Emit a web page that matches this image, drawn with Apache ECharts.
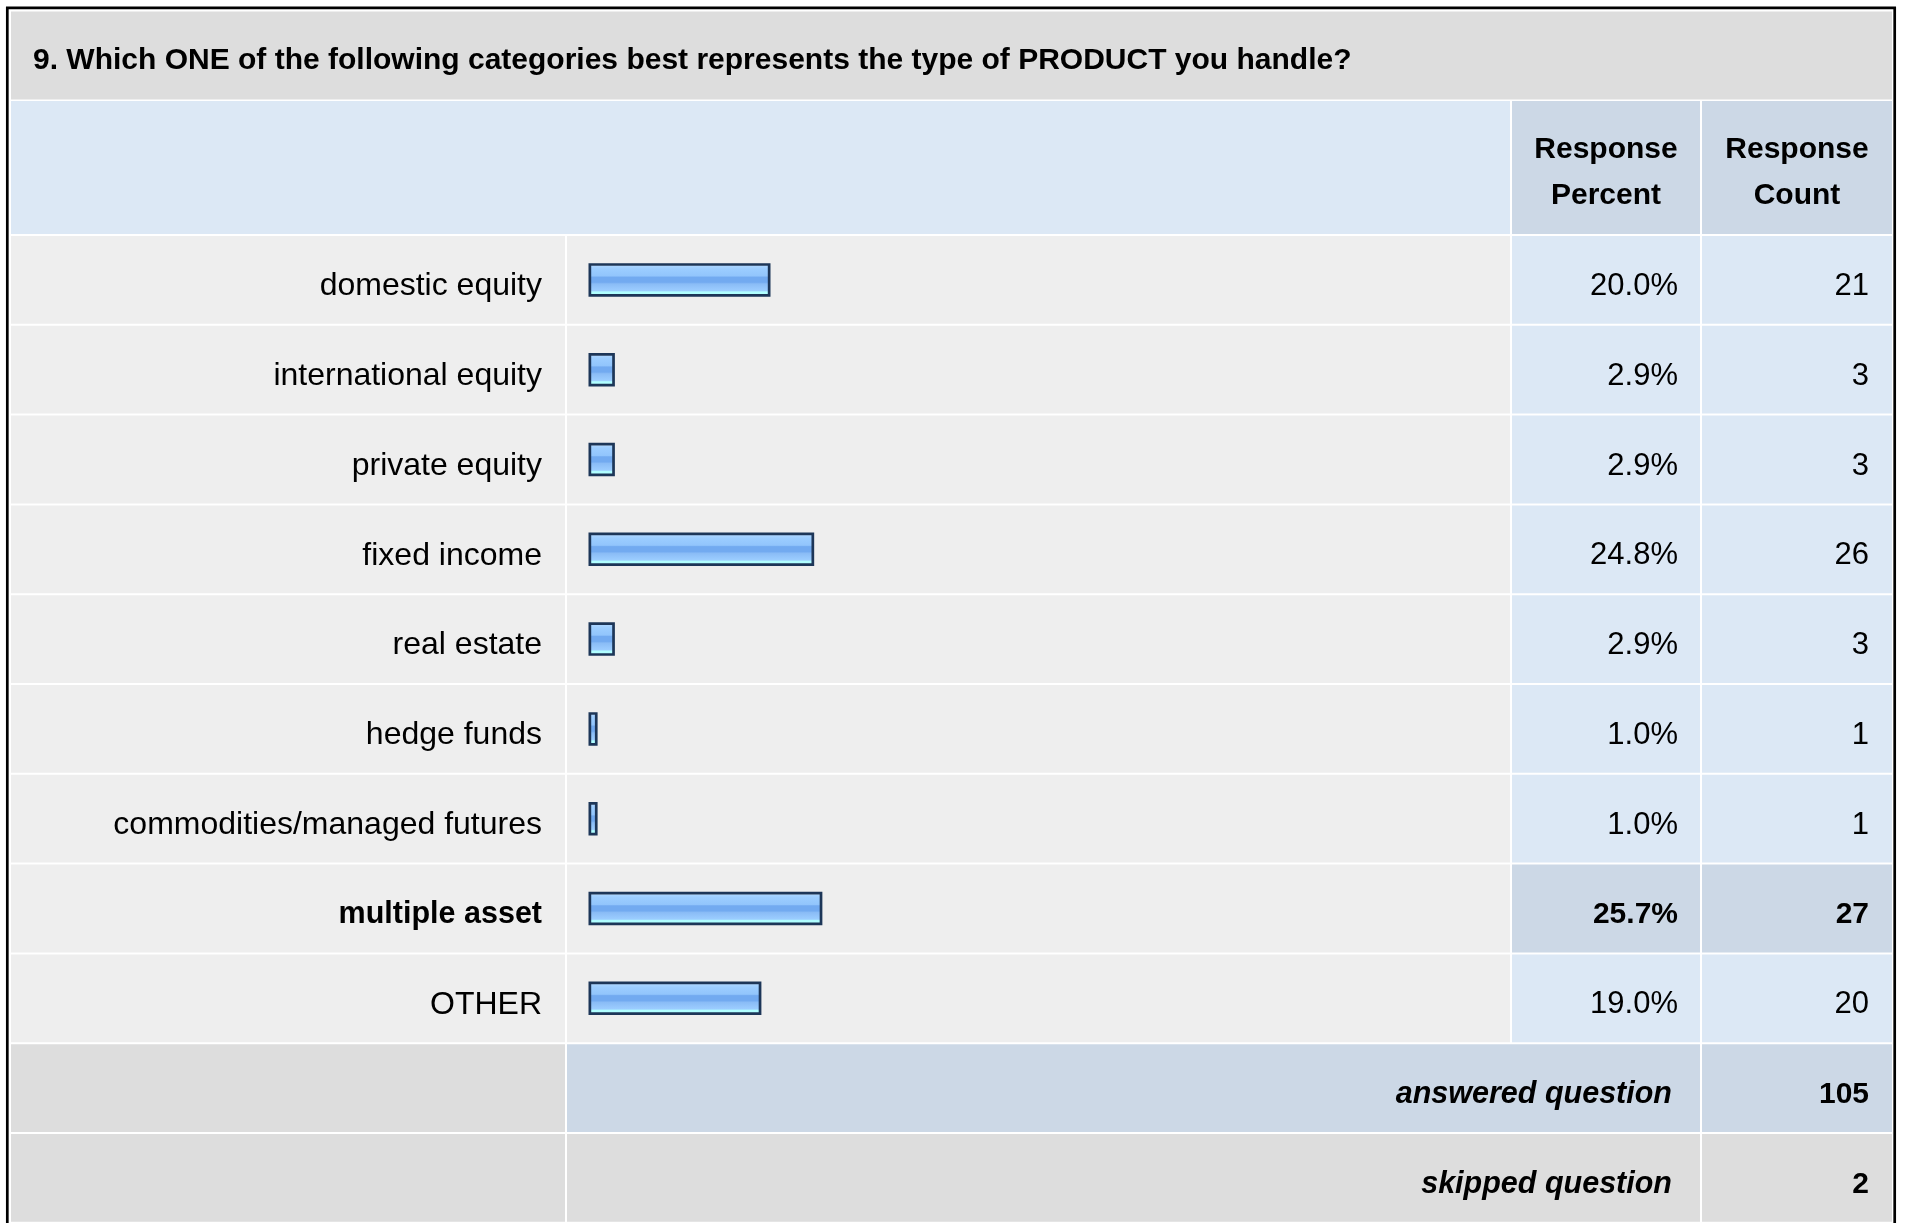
<!DOCTYPE html>
<html>
<head>
<meta charset="utf-8">
<script src="https://cdn.jsdelivr.net/npm/echarts@6/dist/echarts.min.js"></script>
<style>
  html, body { margin: 0; padding: 0; background: #ffffff; }
  #chart { width: 1907px; height: 1223px; }
</style>
</head>
<body>
<div id="chart"></div>
<script>
// ---- data ----
const titleText = '9. Which ONE of the following categories best represents the type of PRODUCT you handle?';
const headerLabels = ['Response\nPercent', 'Response\nCount'];
const categories = ['domestic equity', 'international equity', 'private equity', 'fixed income', 'real estate', 'hedge funds', 'commodities/managed futures', 'multiple asset', 'OTHER'];
const percentValues = [20.0, 2.9, 2.9, 24.8, 2.9, 1.0, 1.0, 25.7, 19.0];
const responseCounts = [21, 3, 3, 26, 3, 1, 1, 27, 20];
const summaryLabels = ['answered question', 'skipped question'];
const summaryCounts = [105, 2];

// ---- layout (not data) ----
const FONT = '"Liberation Sans", Arial, Helvetica, sans-serif';
const COL = { labelL: 11, labelR: 565, barL: 567, barR: 1510, pctL: 1512, pctR: 1700, cntL: 1702, cntR: 1892 };
const C_GREY = '#dddddd', C_LIGHT = '#eeeeee', C_BLUE = '#dce8f5', C_BLUE2 = '#ccd8e6';
const TEXT_DY = 6.5;

const allRows = categories.concat(summaryLabels);
const nCat = categories.length;
const hl = responseCounts.indexOf(Math.max.apply(null, responseCounts));

const chart = echarts.init(document.getElementById('chart'), null, { renderer: 'canvas' });

function rect(x1, x2, y, h, fill) {
  return { type: 'rect', shape: { x: x1, y: y, width: x2 - x1, height: h }, style: { fill: fill } };
}
function txt(x, y, s, bold, italic, size) {
  return {
    type: 'text', x: x, y: y,
    style: {
      text: s, align: 'right', verticalAlign: 'middle', fill: '#000',
      font: (italic ? 'italic ' : '') + (bold ? 'bold ' : '') + size + 'px ' + FONT
    }
  };
}

function renderRow(params, api) {
  const idx = api.value(1);
  const c = api.coord([0, idx]);
  const h = api.size([0, 1])[1];
  const top = c[1] - h / 2 + 1;
  const hh = h - 2;
  const ty = c[1] + TEXT_DY;
  const children = [];
  if (idx < nCat) {
    const isHl = idx === hl;
    const cellC = isHl ? C_BLUE2 : C_BLUE;
    children.push(rect(COL.labelL, COL.labelR, top, hh, C_LIGHT));
    children.push(rect(COL.barL, COL.barR, top, hh, C_LIGHT));
    children.push(rect(COL.pctL, COL.pctR, top, hh, cellC));
    children.push(rect(COL.cntL, COL.cntR, top, hh, cellC));
    children.push(txt(1678, ty, percentValues[idx].toFixed(1) + '%', isHl, false, isHl ? 30 : 31));
    children.push(txt(1869, ty, String(responseCounts[idx]), isHl, false, isHl ? 30 : 31));
  } else {
    const s = idx - nCat;
    const cellC = s === 0 ? C_BLUE2 : C_GREY;
    children.push(rect(COL.labelL, COL.labelR, top, hh, C_GREY));
    children.push(rect(COL.barL, COL.pctR, top, hh, cellC));
    children.push(rect(COL.cntL, COL.cntR, top, hh, cellC));
    children.push(txt(1672, ty, summaryLabels[s], true, true, 30.5));
    children.push(txt(1869, ty, String(summaryCounts[s]), true, false, 30));
  }
  return { type: 'group', children: children };
}

const option = {
  backgroundColor: '#ffffff',
  animation: false,
  graphic: [
    { type: 'rect', z: 0, shape: { x: 11, y: 11.5, width: 1881, height: 88 }, style: { fill: C_GREY } },
    { type: 'rect', z: 0, shape: { x: 11, y: 101, width: COL.barR - 11, height: 133 }, style: { fill: C_BLUE } },
    { type: 'rect', z: 0, shape: { x: COL.pctL, y: 101, width: COL.pctR - COL.pctL, height: 133 }, style: { fill: C_BLUE2 } },
    { type: 'rect', z: 0, shape: { x: COL.cntL, y: 101, width: COL.cntR - COL.cntL, height: 133 }, style: { fill: C_BLUE2 } },
    { type: 'text', z: 1, x: 33, y: 60.5, style: { text: titleText, fill: '#000', font: 'bold 30px ' + FONT, verticalAlign: 'middle', align: 'left' } },
    { type: 'text', z: 1, x: (COL.pctL + COL.pctR) / 2, y: 172.5, style: { text: headerLabels[0], fill: '#000', font: 'bold 30px ' + FONT, align: 'center', verticalAlign: 'middle', lineHeight: 46 } },
    { type: 'text', z: 1, x: (COL.cntL + COL.cntR) / 2, y: 172.5, style: { text: headerLabels[1], fill: '#000', font: 'bold 30px ' + FONT, align: 'center', verticalAlign: 'middle', lineHeight: 46 } },
    { type: 'rect', z: 10, shape: { x: 7.3, y: 7.9, width: 1887.4, height: 1300 }, style: { fill: 'none', stroke: '#000', lineWidth: 2.7 } }
  ],
  grid: { left: 588.5, top: 235, width: 910, height: 987.8, containLabel: false },
  xAxis: { type: 'value', min: 0, max: 100, show: false, splitLine: { show: false } },
  yAxis: {
    type: 'category', data: allRows, inverse: true, z: 6,
    axisLine: { show: false }, axisTick: { show: false }, splitLine: { show: false },
    axisLabel: {
      margin: 46.5, fontSize: 32, fontFamily: FONT, color: '#000', padding: [TEXT_DY * 2, 0, 0, 0],
      formatter: function (v, i) { return i < nCat ? (i === hl ? '{b|' + v + '}' : v) : ''; },
      rich: { b: { fontWeight: 'bold', fontSize: 30.5, fontFamily: FONT, color: '#000' } }
    }
  },
  series: [
    {
      type: 'custom', z: 1, silent: true, clip: false,
      renderItem: renderRow,
      encode: { x: 0, y: 1 },
      data: allRows.map(function (_, i) { return [0, i]; })
    },
    {
      type: 'bar', z: 3, barWidth: 33.5, silent: true,
      data: percentValues,
      itemStyle: {
        borderColor: '#1d3658', borderWidth: 2.7,
        color: new echarts.graphic.LinearGradient(0, 0, 0, 1, [
          { offset: 0.00, color: '#cce6ff' },
          { offset: 0.08, color: '#cce6ff' },
          { offset: 0.09, color: '#aad4ff' },
          { offset: 0.17, color: '#9ccdff' },
          { offset: 0.38, color: '#92c5fc' },
          { offset: 0.42, color: '#72aaf0' },
          { offset: 0.57, color: '#72aaf0' },
          { offset: 0.62, color: '#8abcf6' },
          { offset: 0.82, color: '#9ccdff' },
          { offset: 0.86, color: '#b0ffff' },
          { offset: 1.00, color: '#b0ffff' }
        ])
      }
    }
  ]
};
chart.setOption(option);
</script>
</body>
</html>
